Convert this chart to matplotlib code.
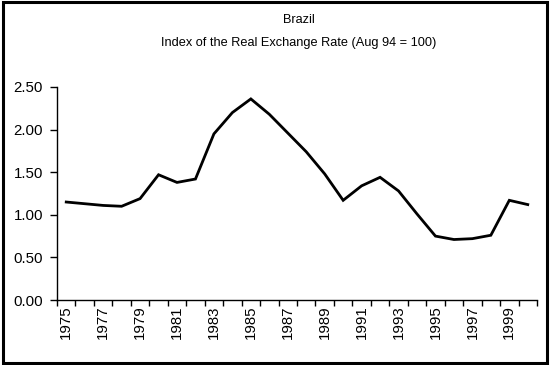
import matplotlib
matplotlib.use('Agg')
import matplotlib.pyplot as plt
from matplotlib.patches import Rectangle

plt.rcParams['font.family'] = ['Liberation Sans', 'DejaVu Sans']

years = list(range(1975, 2001))
rate = [1.15, 1.13, 1.11, 1.10, 1.19, 1.47, 1.38, 1.42, 1.95, 2.20,
        2.36, 2.18, 1.96, 1.74, 1.48, 1.17, 1.34, 1.44, 1.28, 1.01,
        0.75, 0.71, 0.72, 0.76, 1.17, 1.12]
title_lines = ['Brazil', 'Index of the Real Exchange Rate (Aug 94 = 100)']
yticks = [0.0, 0.5, 1.0, 1.5, 2.0, 2.5]

fig = plt.figure(figsize=(5.5, 3.65), dpi=100)
ax = fig.add_axes([57 / 550, 1 - 300 / 365, 480 / 550, 213 / 365])

x = list(range(len(years)))
ax.plot(x, rate, color='black', lw=2, solid_joinstyle='miter')

ax.set_xlim(-0.5, len(years) - 0.5)
ax.set_ylim(0, 2.5)
ax.set_yticks(yticks)
ax.set_yticklabels(['%.2f' % v for v in yticks], fontsize=10.8)

# labels on every other year, tick marks between categories
ax.set_xticks(x[::2])
ax.set_xticklabels([str(y) for y in years[::2]], rotation=90, fontsize=10.8)
ax.set_xticks([i - 0.5 for i in range(len(years) + 1)], minor=True)
ax.tick_params(axis='x', which='major', length=0, pad=4)
ax.tick_params(axis='x', which='minor', length=4, width=1, direction='out')
ax.tick_params(axis='y', length=5, width=1, direction='out', pad=5)

for s in ['top', 'right']:
    ax.spines[s].set_visible(False)
for s in ['left', 'bottom']:
    ax.spines[s].set_linewidth(1)

fig.text(299 / 550, 1 - 20 / 365, title_lines[0], ha='center', va='center', fontsize=9.2)
fig.text(299 / 550, 1 - 43 / 365, title_lines[1], ha='center', va='center', fontsize=9.2)

fig.patches.append(Rectangle((0.005, 0.006), 0.99, 0.988, transform=fig.transFigure,
                             fill=False, edgecolor='black', lw=2.2))

fig.savefig('out.png', dpi=100)
